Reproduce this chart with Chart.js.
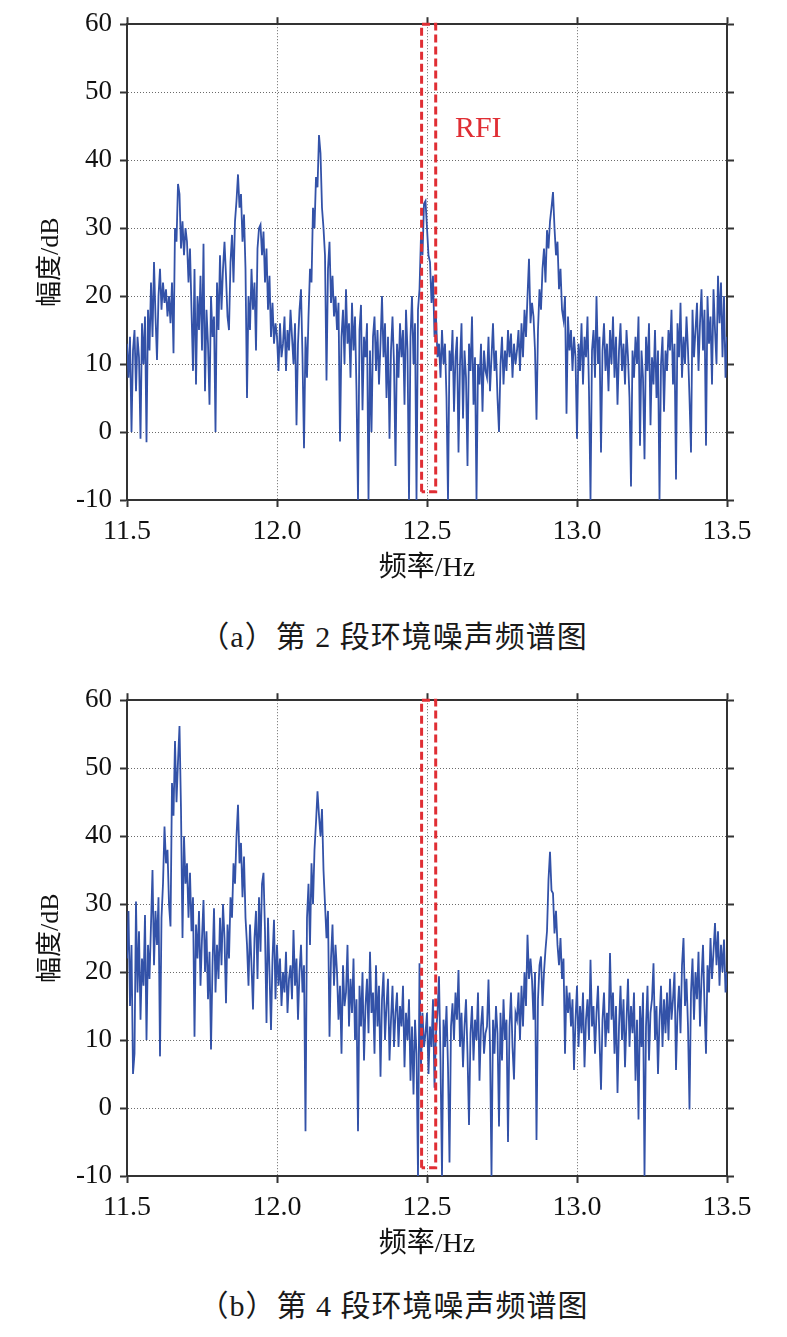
<!DOCTYPE html>
<html><head><meta charset="utf-8">
<script src="https://cdn.jsdelivr.net/npm/chart.js@4.4.0/dist/chart.umd.min.js"></script>
<style>
html,body{margin:0;padding:0;background:#fff;width:787px;height:1337px;overflow:hidden;}
.wrap{position:absolute;left:0;width:787px;height:600px;}
.cap{position:absolute;left:0;width:787px;text-align:center;font-family:"Liberation Serif","Times New Roman",Times,"DejaVu Serif","Noto Sans CJK SC",serif;font-size:30px;color:#1a1a1a;line-height:36px;letter-spacing:1px;}
</style></head><body>
<div class="wrap" style="top:0"><canvas id="ca" width="787" height="600"></canvas></div>
<div class="cap" style="top:619px">（a）第 2 段环境噪声频谱图</div>
<div class="wrap" style="top:676px"><canvas id="cb" width="787" height="600"></canvas></div>
<div class="cap" style="top:1288px">（b）第 4 段环境噪声频谱图</div>
<script>
// sampling grid of the spectrum (Hz)
const freqStart = 11.5;
const freqStep = 0.005;

const xTicks = [11.5, 12.0, 12.5, 13.0, 13.5];
const xTickLabels = ['11.5', '12.0', '12.5', '13.0', '13.5'];
const yTicks = [-10, 0, 10, 20, 30, 40, 50, 60];
const yTickLabels = ['-10', '0', '10', '20', '30', '40', '50', '60'];

const xTitle = '频率/Hz';
const yTitle = '幅度/dB';

// (a) segment 2 amplitude, dB
const ampA = [
 13, 8, 14, 0, 12, 15, 6, 14, 11, -1, 16, 10, 17, -1.5, 18, 12, 22, 14, 25, 17,
 10.6, 20, 24, 18, 22, 19, 21, 17, 20, 16, 22, 11.6, 30, 28, 36.5, 35, 27, 31, 26, 30,
 28, 22, 27, 18, 9, 24, 7, 20, 15, 23, 12, 27.7, 6, 18, 13, 4, 20, 14, 17, 0,
 22, 15, 26, 18, 24, 28, 23, 17, 15, 25, 29, 22, 31, 34, 37.9, 33, 35, 28, 32, 24,
 5, 20, 15, 24, 18, 22, 12, 27, 30, 30.5, 26, 29.5, 22, 27, 18, 23, 14, 19, 13, 16,
 14, 9, 16, 11, 13, 17, 9, 15, 12, 18, 14, 10, 16, 1, 13, 18, 21, 11, -2.4, 14,
 8, 17, 24, 22, 33, 30, 37.5, 36, 43.7, 41, 33, 30, 26, 7.6, 24, 28, 19, 23, 17, 20,
 15, 19, -1.4, 14, 18, 10, 21, 13, 16, 8, 19, 12, 17, 6, -10, 15, 18.7, 3.2, 14, 11,
 16, -10, 12, 0, 14, 17, 9, 15, 7, 13, 20, 11, 16, 5, 14, -1, 12, 17, 10, -5,
 13, 8, 16, 11, 15, 4, 18, 12, -10, 14, 20, 10, 16, -10, 18, 21, 29, 26, 33.6, 34,
 30, 26, 25, 19, 23, 14, 17, 11, 13, 8, 15, 10, 13, 5, -10, 12, 9, 15, 3, 11,
 14, -3, 10, 16, 2, 12, 8, -5, 13, 9, 17, 4, 11, -10, 10, 7, 13, 3, 12, 9,
 8, 14, 6, 11, 16, 9, 12, 5, 0, 10, 14, 7, 12, 9, 15, 11, 14.5, 8, 13, 10,
 12, 15, 9, 16, 11, 18, 14, 20, 25.5, 16, 19, 17, 12, 1.8, 15, 21, 18, 24, 27, 22,
 29.7, 27, 31, 33, 35.3, 30, 26, 28, 21, 24, 18, 16.5, 20, 2.7, 17, 12, 15, 9, 14, 11,
 -1, 13, 9, 16, 7, 14, 11, 17, 6, -10, 12, 15, 8, 20, 10, 14, -3, 12, 16, 9,
 13, 6, 15, 10, 17, 8, 14, 4, 12, 16, 9, 13, 7, 15, 11, 5, -8, 12, 8, 14,
 10, 17, -2, 12, 8, -4, 14, 9, 16, 1, 11, 7, 15, 5, 12, -10, 10, 14, 3, 12,
 9, 15, 12, 18, 7, 13, -7, 16, 11, 19, 8, 14, 10, 17, 12, 5, -3, 18, 11, 15,
 19, 9, 16, 21, 12, 18, -2, 20, 13, 17, 7, 21, 15, 10, 23, 16, 22, 11, 20, 8, 14
];

// (b) segment 4 amplitude, dB
const ampB = [
 22, 29, 15, 24, 5, 8, 30.4, 17, 26, 13, 22, 18, 28.4, 10, 24, 19, 27, 35, 21, 29,
 24, 31, 7.6, 28, 33, 41.4, 36, 38, 30, 26.7, 47.8, 43, 54, 45, 51, 56.2, 43.9, 25, 40, 33,
 36, 28, 34.6, 26, 31, 10.5, 27, 22, 29, 18, 25, 30.6, 20, 26, 16, 23, 8.6, 21, 29.4, 17,
 24, 19, 28, 21, 30, 25, 15.4, 27, 22, 31, 28, 36, 33, 40, 44.6, 36, 39, 31, 37, 28,
 24, 18, 27, 21, 14.5, 25, 29, 19, 31, 23, 33, 34.6, 26, 12.5, 28, 20, 11.5, 22, 27.7, 16,
 24, 18, 22, 15, 20, 17, 23, 14, 19, 21, 16, 26.2, 18, 22, 13, 20, 24, 17, 21, -3.4,
 28, 33, 24, 36, 30, 38, 42, 46.6, 43, 40, 44, 35, 30, 25, 29, 10.5, 22, 27, 18, 24,
 20, 13, 18, 8, 21, 15, 17, 24, 12, 19, 14, 22, 10, 16, -3.4, 18, 12, 20, 7, 15,
 19, 11, 23, 14, 17, 8, 21, 12, 18, 4.6, 16, 20, 10, 15, 19, 7, 13, 18, 9, 14,
 17, 9, 15, 12, 18, 6, 14, 10, 16, 4, 12, 2, 13, 8, -10, 21.3, 6, 14, 9, 11,
 14, 5, 12, 9, 16, 3, 11, 14, 19.4, 7, -10, 13, 9, 15, 6, -8, 12, 15.4, 10, 17,
 13, 20.3, 9, 14, 6, 12, 16, 8, -2.5, 11, 15, 7, 13, 10, 17, 4, 12, 15, 8, 11,
 12, 18.9, 9, -10, 13, 8, 15, 11, -2.7, 14, 7, 16, 10, 13, -5, 12, 17, 9, 4.2, 14,
 13, 17, 10, 18, 12, 20, 15, 25.5, 19, 22, 18.9, 13, 20, -4.7, 16, 21, 22.3, 15, 20, 23.3,
 26, 33.6, 37.7, 32, 31.6, 25.7, 29, 24, 21, 25, 19, 22, 8, 18, 14, 17, 12, 16, 5.6, 13,
 18, 9, 15, 11, 17, 6, 13, 16, 10, 21.8, 12, 15, 8, 14, 18, 10, 2.7, 13, 17, 9,
 14, 11, 22.8, 13, 17, 8, 15, 2.2, 12, 18, 10, 16, 6, 13, 19, 9, 15, 11, 17, 4,
 13, -1.7, 15, 9, 17, -10, 12, 18, 7, 14, 16, 21.3, 10, 15, 5, 13, 18, 9, 16, 11,
 17, 10, 19, 13, 16, 20, 5.6, 14, 18, 11, 21, 25, 15, 19, 12, -0.2, 17, 22, 13, 20,
 16, 23, 12, 19, 24, 15, 8, 21, 17, 25, 19, 23, 27.2, 21, 26, 18, 24, 20, 24.8, 17, 20
];

// RFI band box (dashed)
const rfiX = [12.482, 12.482, 12.529, 12.529, 12.482];
const rfiY = [-8.8, 60, 60, -8.8, -8.8];
const rfiLabel = 'RFI';
const rfiLabelPos = [12.593, 44.6];

const SERIF = '"Liberation Serif", "Times New Roman", Times, "DejaVu Serif", "Noto Sans CJK SC", serif';
const BLUE = '#3352a8';
const RED = 'rgb(224,46,52)';
const AXIS = '#333333';
const TEXT = '#111111';

function toPoints(amp) {
  return amp.map((v, i) => ({ x: freqStart + i * freqStep, y: v }));
}

const rfiTextPlugin = {
  id: 'rfiText',
  afterDatasetsDraw(chart, args, opts) {
    if (!opts.show) return;
    const ctx = chart.ctx;
    const xs = chart.scales.x, ys = chart.scales.y;
    ctx.save();
    ctx.fillStyle = RED;
    ctx.font = '30px ' + SERIF;
    ctx.textAlign = 'left';
    ctx.textBaseline = 'middle';
    ctx.fillText(rfiLabel, xs.getPixelForValue(rfiLabelPos[0]), ys.getPixelForValue(rfiLabelPos[1]));
    ctx.restore();
  }
};

function makeChart(id, amp, showLabel) {
  const secondary = (pos) => ({
    type: 'linear',
    position: pos,
    min: pos === 'top' ? 11.5 : -10,
    max: pos === 'top' ? 13.5 : 60,
    afterBuildTicks: (s) => { s.ticks = (pos === 'top' ? xTicks : yTicks).map(v => ({ value: v })); },
    afterFit: (s) => { if (pos === 'top') s.height = 10; else s.width = 10; },
    ticks: { display: false },
    grid: { drawOnChartArea: false, drawTicks: true, tickLength: 7, tickColor: AXIS, tickWidth: 2 },
    border: { display: true, color: AXIS, width: 2 }
  });
  return new Chart(document.getElementById(id), {
    type: 'line',
    data: {
      datasets: [
        {
          data: rfiX.map((x, i) => ({ x, y: rfiY[i] })),
          borderColor: RED, borderWidth: 3, borderDash: [8, 4],
          pointRadius: 0, fill: false, tension: 0, clip: false, order: 0
        },
        {
          data: toPoints(amp),
          borderColor: BLUE, borderWidth: 1.8,
          pointRadius: 0, fill: false, tension: 0, order: 1
        }
      ]
    },
    options: {
      responsive: false,
      animation: false,
      events: [],
      layout: { padding: { top: 13, right: 50, bottom: 0, left: 0 } },
      plugins: { legend: { display: false }, tooltip: { enabled: false }, rfiText: { show: showLabel } },
      scales: {
        x: {
          type: 'linear', position: 'bottom', min: 11.5, max: 13.5,
          afterBuildTicks: (s) => { s.ticks = xTicks.map(v => ({ value: v })); },
          afterFit: (s) => { s.height = 100; },
          ticks: {
            autoSkip: false, maxRotation: 0, padding: 8, color: TEXT,
            font: { family: SERIF, size: 28 },
            callback: (v) => xTickLabels[xTicks.indexOf(v)]
          },
          grid: { color: '#6a6a6a', lineWidth: 1, tickLength: 7, tickColor: AXIS, tickWidth: 2, tickBorderDash: [] },
          border: { display: true, color: AXIS, width: 2, dash: [1, 2] },
          title: { display: true, text: xTitle, color: TEXT, font: { family: SERIF, size: 28 }, padding: { top: 0, bottom: 15 } }
        },
        y: {
          type: 'linear', position: 'left', min: -10, max: 60,
          afterBuildTicks: (s) => { s.ticks = yTicks.map(v => ({ value: v })); },
          afterFit: (s) => { s.width = 127; },
          ticks: {
            autoSkip: false, padding: 8, color: TEXT,
            font: { family: SERIF, size: 27 },
            callback: (v) => yTickLabels[yTicks.indexOf(v)]
          },
          grid: { color: '#6a6a6a', lineWidth: 1, tickLength: 7, tickColor: AXIS, tickWidth: 2, tickBorderDash: [] },
          border: { display: true, color: AXIS, width: 2, dash: [1, 2] },
          title: { display: true, text: yTitle, color: TEXT, font: { family: SERIF, size: 26 }, padding: { top: 36, bottom: 0 } }
        },
        x2: secondary('top'),
        y2: secondary('right')
      }
    },
    plugins: [rfiTextPlugin]
  });
}

makeChart('ca', ampA, true);
makeChart('cb', ampB, false);
</script>
</body></html>
